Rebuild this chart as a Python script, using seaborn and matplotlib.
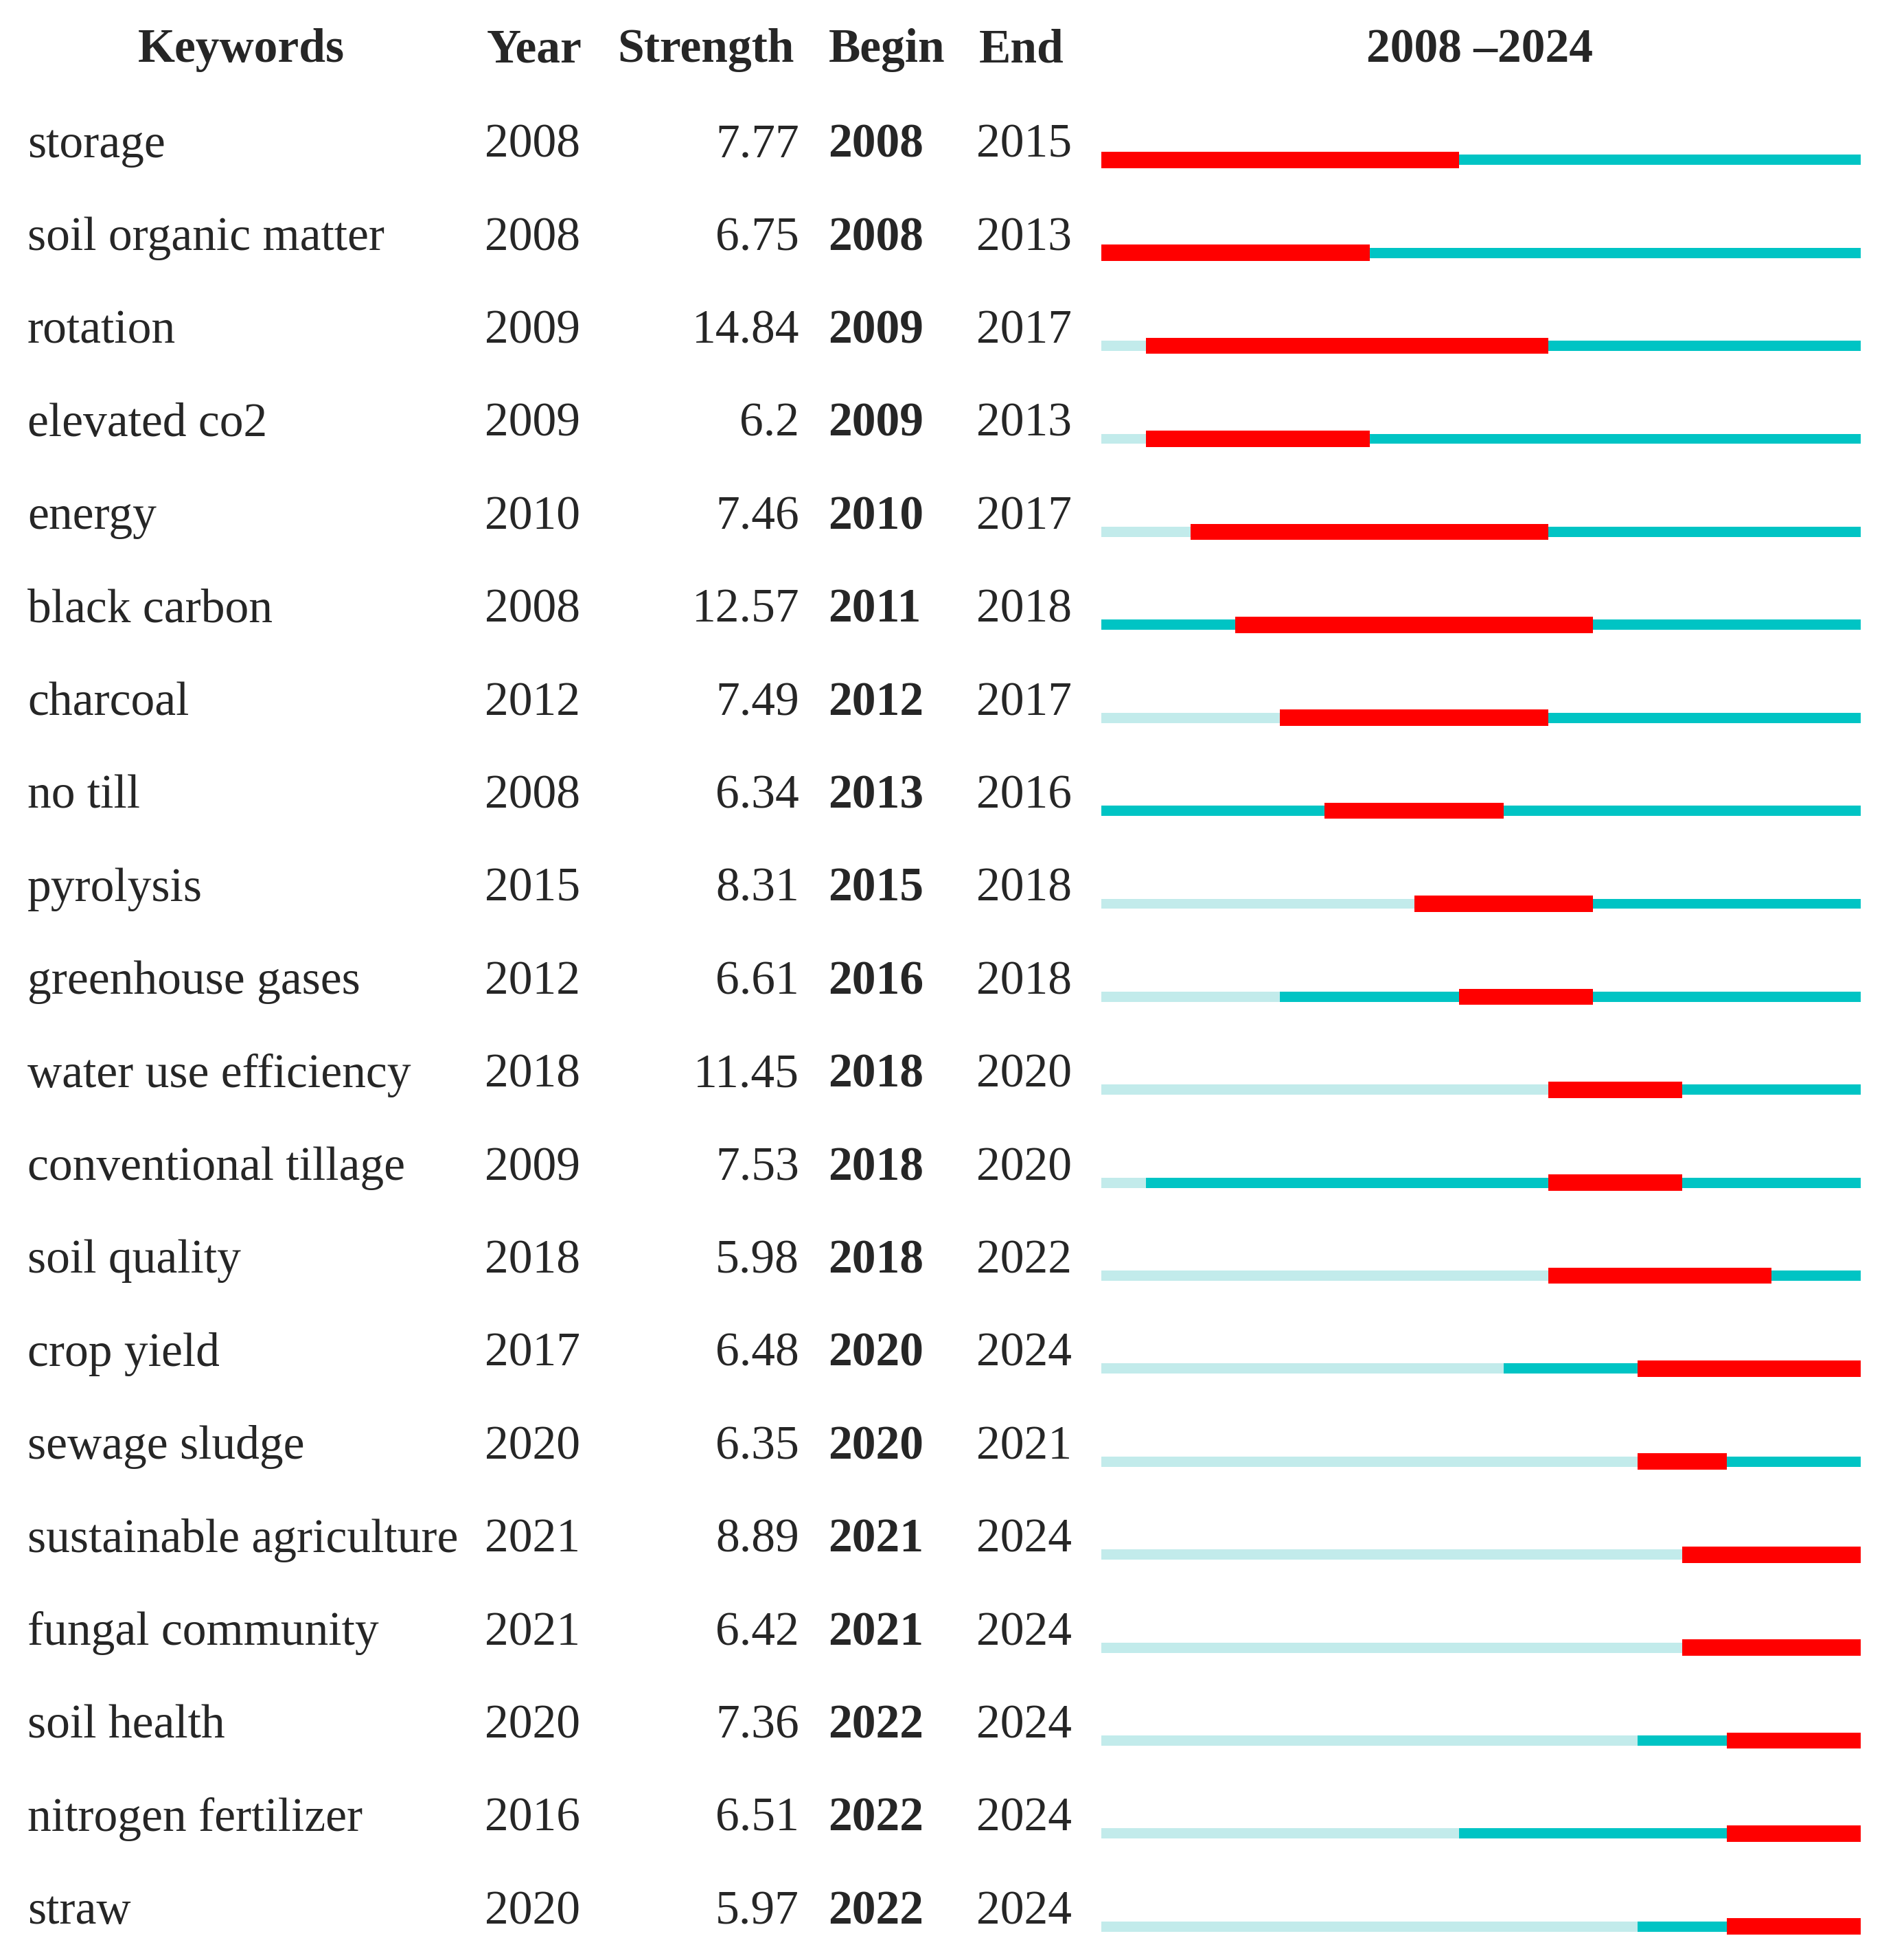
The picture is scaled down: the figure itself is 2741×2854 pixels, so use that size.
import matplotlib
matplotlib.use("Agg")
import matplotlib.pyplot as plt
import matplotlib.transforms as mtransforms
import seaborn as sns

# burst data
keywords = ["storage", "soil organic matter", "rotation", "elevated co2", "energy",
            "black carbon", "charcoal", "no till", "pyrolysis", "greenhouse gases",
            "water use efficiency", "conventional tillage", "soil quality", "crop yield",
            "sewage sludge", "sustainable agriculture", "fungal community", "soil health",
            "nitrogen fertilizer", "straw"]
years = [2008, 2008, 2009, 2009, 2010, 2008, 2012, 2008, 2015, 2012,
         2018, 2009, 2018, 2017, 2020, 2021, 2021, 2020, 2016, 2020]
strength = [7.77, 6.75, 14.84, 6.2, 7.46, 12.57, 7.49, 6.34, 8.31, 6.61,
            11.45, 7.53, 5.98, 6.48, 6.35, 8.89, 6.42, 7.36, 6.51, 5.97]
begin = [2008, 2008, 2009, 2009, 2010, 2011, 2012, 2013, 2015, 2016,
         2018, 2018, 2018, 2020, 2020, 2021, 2021, 2022, 2022, 2022]
end = [2015, 2013, 2017, 2013, 2017, 2018, 2017, 2016, 2018, 2018,
       2020, 2020, 2022, 2024, 2021, 2024, 2024, 2024, 2024, 2024]
start_year, end_year = 2008, 2024

sns.set_theme(style="white")
plt.rcParams['font.family'] = ['Liberation Serif', 'DejaVu Serif']

W = 1507.0
fig = plt.figure(figsize=(27.41, 28.54), dpi=100)
ax = fig.add_axes([882 / W, 0.0, (1490 - 882) / W, 1.0])
ax.set_xlim(start_year, end_year + 1)
ax.set_ylim(19.36, -1.72)
ax.axis("off")

light = "#c2ebeb"
cyan = "#00c4c4"
red = "#ff0000"
thin = 0.11
thick = 0.175

for i in range(len(keywords)):
    # light segment before first appearance
    if years[i] > start_year:
        ax.barh(i, years[i] - start_year, left=start_year, height=thin, color=light, linewidth=0)
    # appearance to end
    ax.barh(i, end_year + 1 - years[i], left=years[i], height=thin, color=cyan, linewidth=0)
    # burst
    ax.barh(i, end[i] + 1 - begin[i], left=begin[i], height=thick, color=red, linewidth=0)

trans = mtransforms.blended_transform_factory(fig.transFigure, ax.transData)
fs = 50

hy = -1.18
ax.text(193 / W, hy, "Keywords", transform=trans, ha="center", va="center", fontsize=fs, fontweight="bold")
ax.text(428 / W, hy, "Year", transform=trans, ha="center", va="center", fontsize=fs, fontweight="bold")
ax.text(565 / W, hy, "Strength", transform=trans, ha="center", va="center", fontsize=fs, fontweight="bold")
ax.text(710 / W, hy, "Begin", transform=trans, ha="center", va="center", fontsize=fs, fontweight="bold")
ax.text(818 / W, hy, "End", transform=trans, ha="center", va="center", fontsize=fs, fontweight="bold")
ax.text(1185 / W, hy, f"{start_year} \u2013{end_year}", transform=trans, ha="center", va="center",
        fontsize=fs, fontweight="bold")

for i in range(len(keywords)):
    yb = i - 0.03
    ax.text(22 / W, yb, keywords[i], transform=trans, ha="left", va="baseline", fontsize=fs)
    ax.text(388 / W, yb, str(years[i]), transform=trans, ha="left", va="baseline", fontsize=fs)
    ax.text(640 / W, yb, f"{strength[i]:g}", transform=trans, ha="right", va="baseline", fontsize=fs)
    ax.text(663 / W, yb, str(begin[i]), transform=trans, ha="left", va="baseline", fontsize=fs,
            fontweight="bold")
    ax.text(782 / W, yb, str(end[i]), transform=trans, ha="left", va="baseline", fontsize=fs)

fig.savefig("out.png", dpi=100, facecolor="white")
